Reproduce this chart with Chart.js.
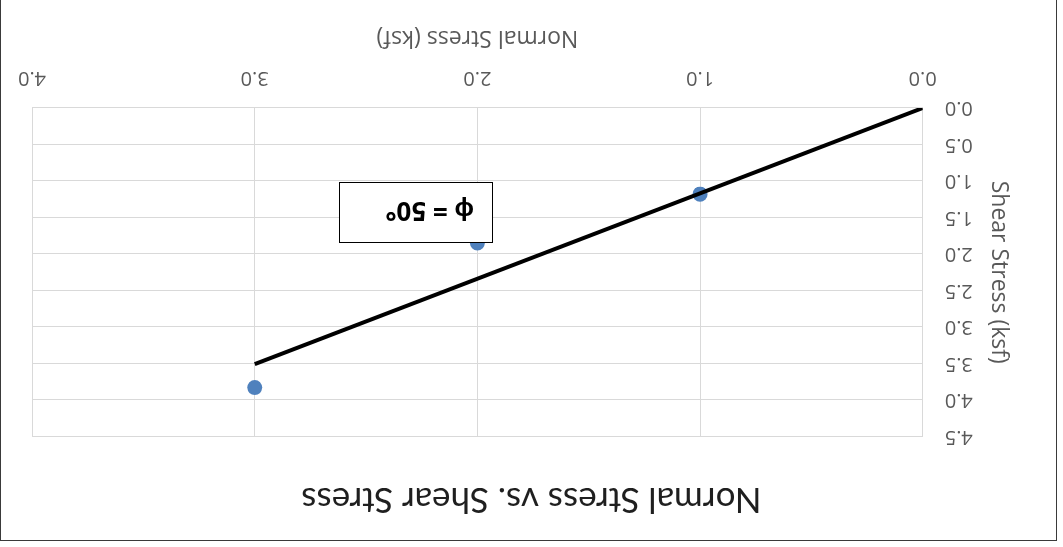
<!DOCTYPE html>
<html>
<head>
<meta charset="utf-8">
<script src="https://cdn.jsdelivr.net/npm/chart.js@4"></script>
<style>
  html, body { margin: 0; padding: 0; background: #fff; overflow: hidden; }
  #frame {
    position: relative; width: 1063px; height: 547px; overflow: hidden;
    transform: rotate(180deg); transform-origin: 50% 50%;
  }
  #outline {
    position: absolute; left: 6px; top: 6px; right: 0px; bottom: -20px;
    border: 1.5px solid #3a3a3a; box-sizing: border-box; pointer-events: none;
  }
  #chart { position: absolute; left: 0; top: 0; }
  #phi {
    position: absolute; left: 570px; top: 304px; width: 154px; height: 61px;
    box-sizing: border-box; border: 1.5px solid #000; background: #fff;
    font: bold 26px "Open Sans", sans-serif; color: #000;
    display: flex; align-items: center; padding-left: 18px;
  }
</style>
</head>
<body>
<div id="frame">
  <canvas id="chart" width="1063" height="547"></canvas>
  <div id="phi">ϕ = 50°</div>
  <div id="outline"></div>
</div>
<script>
// Direct shear test results
const normalStress = [1.0, 2.0, 3.0];      // ksf
const shearStress  = [1.18, 1.85, 3.83];   // ksf

// Failure envelope (linear fit through the origin)
const envelopeNormal = [0.0, 3.0];
const envelopeShear  = [0.0, 3.51];

const xTicks = [0, 1, 2, 3, 4];
const yTicks = [0, 0.5, 1, 1.5, 2, 2.5, 3, 3.5, 4, 4.5];

const testPoints = normalStress.map((x, i) => ({ x, y: shearStress[i] }));
const envelope = envelopeNormal.map((x, i) => ({ x, y: envelopeShear[i] }));

const gridColor = '#d9d9d9';
const labelColor = '#595959';

new Chart(document.getElementById('chart'), {
  type: 'scatter',
  data: {
    datasets: [
      {
        label: 'Envelope',
        data: envelope,
        showLine: true,
        borderColor: '#000',
        borderWidth: 4,
        pointRadius: 0,
        fill: false,
        order: 0
      },
      {
        label: 'Tests',
        data: testPoints,
        backgroundColor: '#4f81bd',
        borderWidth: 0,
        pointRadius: 7.5,
        order: 1
      }
    ]
  },
  options: {
    responsive: false,
    animation: false,
    devicePixelRatio: 1,
    layout: { padding: { left: 0, right: 0, top: 0, bottom: 0 } },
    plugins: {
      legend: { display: false },
      tooltip: { enabled: false },
      title: {
        display: true,
        text: 'Normal Stress vs. Shear Stress',
        color: '#1f1f1f',
        font: { family: 'Lato', size: 35, weight: 'normal', lineHeight: 1.2 },
        padding: { top: 26.5, bottom: 42 }
      }
    },
    scales: {
      x: {
        type: 'linear',
        position: 'bottom',
        min: 0, max: 4,
        afterBuildTicks: s => { s.ticks = xTicks.map(v => ({ value: v })); },
        afterFit: s => { s.height = 108; },
        ticks: {
          color: labelColor,
          padding: 18,
          font: { family: 'Open Sans', size: 20 },
          callback: v => Number(v).toFixed(1)
        },
        grid: { color: gridColor, lineWidth: 1, drawTicks: false },
        border: { color: gridColor, width: 1 },
        title: {
          display: true,
          text: 'Normal Stress (ksf)',
          color: labelColor,
          font: { family: 'Open Sans', size: 23 },
          padding: { top: 0, bottom: 24 }
        }
      },
      y: {
        type: 'linear',
        position: 'left',
        min: 0, max: 4.5,
        afterBuildTicks: s => { s.ticks = yTicks.map(v => ({ value: v })); },
        afterFit: s => { s.width = 140.3; },
        ticks: {
          color: labelColor,
          padding: 22,
          font: { family: 'Open Sans', size: 20 },
          callback: v => Number(v).toFixed(1)
        },
        grid: { color: gridColor, lineWidth: 1, drawTicks: false },
        border: { color: gridColor, width: 1 },
        title: {
          display: true,
          text: 'Shear Stress (ksf)',
          color: labelColor,
          font: { family: 'Open Sans', size: 23 },
          padding: { top: 51, bottom: 0 }
        }
      },
      // empty right-hand gutter so the title stays centred on the canvas
      gutter: {
        type: 'linear',
        position: 'right',
        display: true,
        afterFit: s => { s.width = 32; },
        ticks: { display: false },
        grid: { display: false, drawTicks: false },
        border: { display: false }
      }
    }
  }
});
</script>
</body>
</html>
